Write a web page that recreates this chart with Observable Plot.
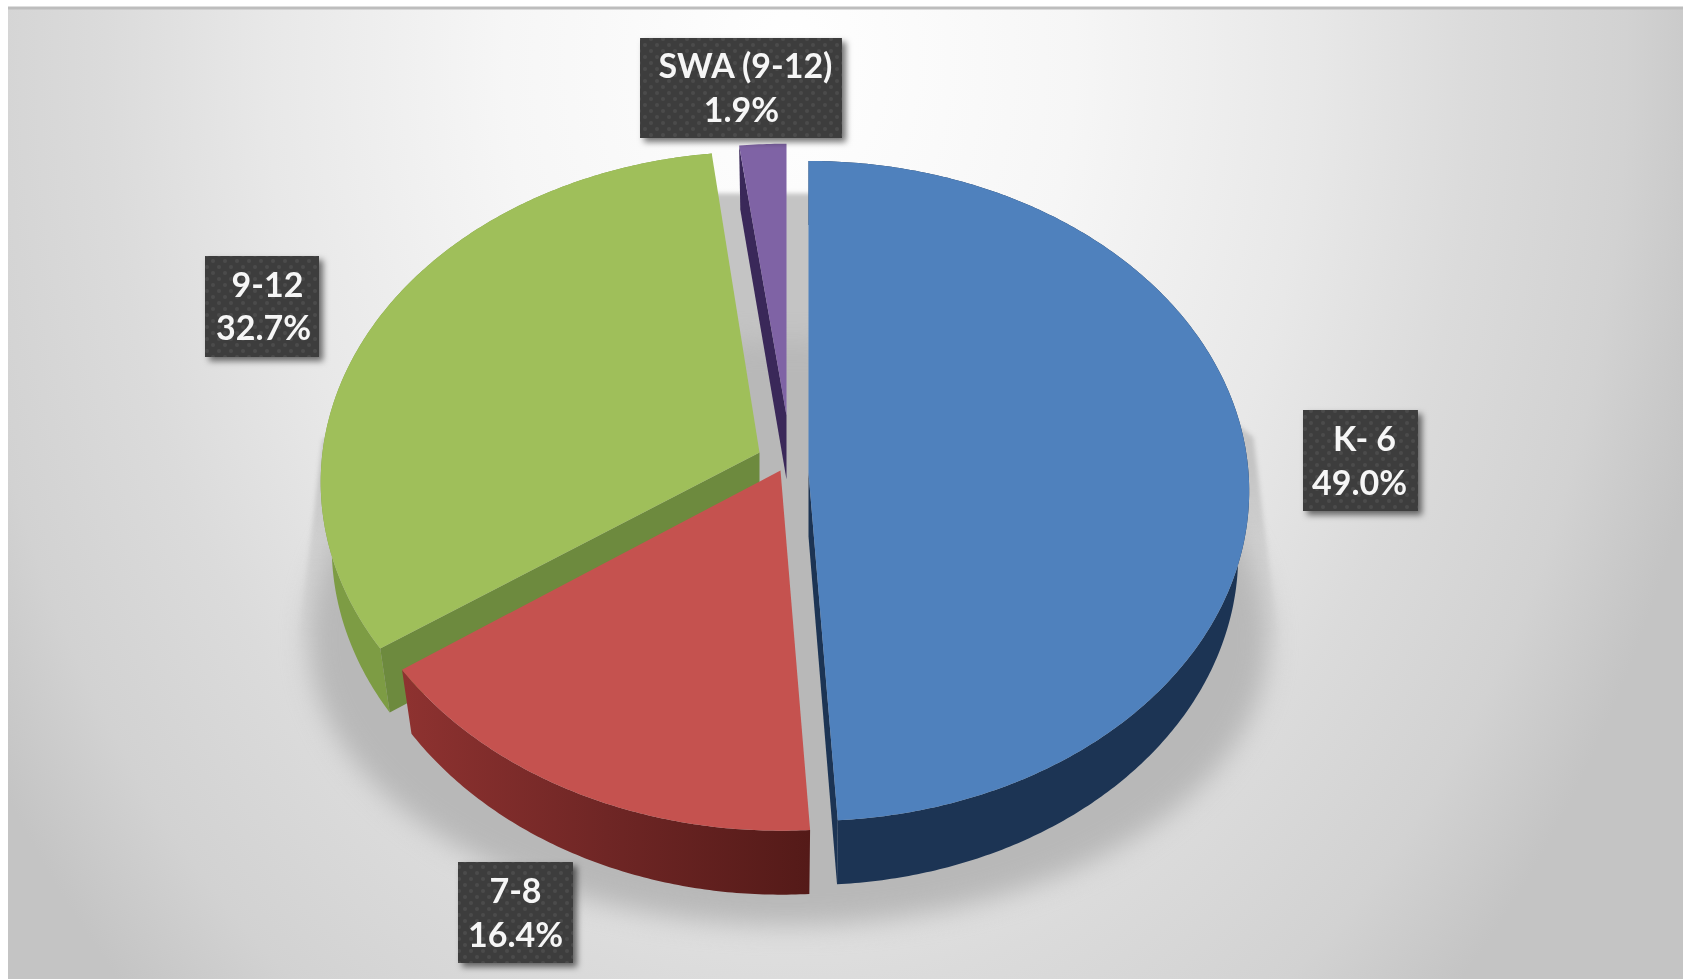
<!DOCTYPE html>
<html>
<head>
<meta charset="utf-8">
<script src="https://cdn.jsdelivr.net/npm/d3@7"></script>
<script src="https://cdn.jsdelivr.net/npm/@observablehq/plot@0.6"></script>
<style>
  html, body { margin: 0; padding: 0; background: #fff; overflow: hidden; }
  svg { display: block; }
</style>
</head>
<body>
<div id="chart"></div>
<script>
// ---- data ----
const categories = ["K- 6", "7-8", "9-12", "SWA (9-12)"];
const shares = [49.0, 16.4, 32.7, 1.9];

// ---- styles ----
const topColors = ["#4f81bd", "#c5524f", "#9fbf5a", "#7f63a5"];
const wallColors = ["#1c3454", "url(#redWall)", "#7d9c44", "#3a2859"];
const cutColors = ["#1c3454", null, "#6d8a3e", "#3a2859"];
const drawOrder = [3, 2, 1, 0];

// ---- layout (picture units) ----
const W = 1683, H = 979;
const apexX = [808, 780, 759, 786];
const apexY = [472, 470, 452, 415];
const radiusX = [440, 445, 437, 420];
const radiusY = [329, 340, 328, 287];
const tilt = [0.056, 0.056, 0.09, 0.056];
const depth = 64, wallScale = 0.975;
const boxX1 = [1303, 458, 205, 640];
const boxX2 = [1418, 573, 319, 842];
const boxY1 = [410, 862, 256, 38];
const boxY2 = [511, 963, 357, 138];
const nameX = [1364, 515, 267, 745];
const pctX = [1359, 515, 263, 741];
const nameY = [450, 902, 296, 77];
const pctY = [494, 946, 339, 121];

// ---- geometry ----
const arcs = d3.pie().sort(null).value(d => d)(shares);
const onRim = (i, a) => {
  const u = Math.sin(a), v = -Math.cos(a), s = 1 / (1 - tilt[i] * v);
  return [apexX[i] + radiusX[i] * u * s, apexY[i] + radiusY[i] * v * s];
};
const lower = (i, p) => [apexX[i] + (p[0] - apexX[i]) * wallScale, p[1] + depth];
const rimPoints = (i) => {
  const {startAngle: a0, endAngle: a1} = arcs[i];
  const n = Math.max(6, Math.ceil((a1 - a0) / 0.01));
  return d3.range(n + 1).map(k => onRim(i, a0 + (a1 - a0) * k / n));
};
const face = (pts, fill, extra = {}) =>
  Plot.line([...pts, pts[0]], {x: d => d[0], y: d => d[1], fill, stroke: "none", ...extra});

const sliceMarks = drawOrder.flatMap(i => {
  const rim = rimPoints(i);
  const apex = [apexX[i], apexY[i]];
  const marks = [];
  if (i !== 3) marks.push(face([...rim, ...rim.map(p => lower(i, p)).reverse()], wallColors[i]));
  if (i === 0) {
    const end = rim[rim.length - 1];
    marks.push(face([apex, end, lower(i, end), lower(i, apex)], cutColors[i]));
  }
  if (i === 2 || i === 3) {
    const start = rim[0];
    marks.push(face([apex, start, lower(i, start), lower(i, apex)], cutColors[i]));
  }
  marks.push(face([apex, ...rim], topColors[i]));
  return marks;
});

// shadow behind the pie: a crisp upper trapezoid and a soft lower ellipse
const shadowUpper = [[297, 650], [322, 440], [600, 193], [960, 193], [1253, 437], [1279, 650]];
const shadowCx = 788, shadowCy = 640;
const shadowLower = d3.range(0, 2 * Math.PI + 0.01, 0.02).map(a => {
  const dy = Math.sin(a);
  return [shadowCx + 480 * Math.cos(a), shadowCy + (dy < 0 ? 300 : 285) * dy];
});

const labels = categories.map((name, i) => ({
  name, pct: d3.format(".1f")(shares[i]) + "%",
  x1: boxX1[i], x2: boxX2[i], y1: boxY1[i], y2: boxY2[i],
  nx: nameX[i], px: pctX[i], ny: nameY[i], py: pctY[i]
}));

const textOpts = {
  fill: "#f6f6f6", fontFamily: "Lato", fontWeight: 700, fontSize: 34,
  lineAnchor: "bottom", textAnchor: "middle", imageFilter: "blur(0.5px)"
};

const chart = Plot.plot({
  width: W, height: H,
  margin: 0,
  x: {domain: [0, W], axis: null},
  y: {domain: [H, 0], axis: null},
  marks: [
    Plot.rect([0], {x1: 8, x2: W, y1: 8, y2: H, fill: "url(#bg)"}),
    Plot.ruleY([7.5], {x1: 8, x2: W, stroke: "#bdbdbd", strokeWidth: 3}),
    face(shadowUpper, "url(#shadowTop)", {imageFilter: "blur(2px)"}),
    face(shadowLower, "#b8b8b8", {imageFilter: "blur(13px)"}),
    ...sliceMarks,
    Plot.rect(labels, {
      x1: "x1", x2: "x2", y1: "y1", y2: "y2", fill: "url(#lbl)",
      imageFilter: "drop-shadow(4px 4px 3px rgba(0,0,0,.55))"
    }),
    Plot.text(labels, {x: "nx", y: "ny", text: "name", ...textOpts}),
    Plot.text(labels, {x: "px", y: "py", text: "pct", ...textOpts})
  ]
});

// gradients and the label texture
const defs = d3.select(chart).insert("defs", ":first-child");
const bg = defs.append("radialGradient").attr("id", "bg")
  .attr("gradientUnits", "userSpaceOnUse")
  .attr("cx", 0).attr("cy", 0).attr("r", 1)
  .attr("gradientTransform", "translate(790 60) scale(950 1300)");
[[0, "#ffffff"], [0.3, "#f6f6f6"], [0.55, "#e8e8e8"], [0.72, "#dbdbdb"], [0.88, "#d2d2d2"], [1, "#c4c4c4"]]
  .forEach(([o, c]) => bg.append("stop").attr("offset", o).attr("stop-color", c));
const st = defs.append("linearGradient").attr("id", "shadowTop")
  .attr("gradientUnits", "userSpaceOnUse")
  .attr("x1", 0).attr("x2", 0).attr("y1", 193).attr("y2", 650);
[[0, 1], [0.6, 1], [1, 0]]
  .forEach(([o, a]) => st.append("stop").attr("offset", o).attr("stop-color", "#c4c4c4").attr("stop-opacity", a));
const rw = defs.append("linearGradient").attr("id", "redWall")
  .attr("gradientUnits", "userSpaceOnUse")
  .attr("x1", 403).attr("x2", 810).attr("y1", 0).attr("y2", 0);
[[0, "#8e3230"], [0.5, "#6f2625"], [1, "#541a18"]]
  .forEach(([o, c]) => rw.append("stop").attr("offset", o).attr("stop-color", c));
const pat = defs.append("pattern").attr("id", "lbl")
  .attr("patternUnits", "userSpaceOnUse").attr("width", 12).attr("height", 12);
pat.append("rect").attr("width", 12).attr("height", 12).attr("fill", "#3d3d3d");
[[3, 3], [9, 9]].forEach(([x, y]) =>
  pat.append("circle").attr("cx", x).attr("cy", y).attr("r", 2).attr("fill", "#4b4b4b"));

document.getElementById("chart").append(chart);
</script>
</body>
</html>
